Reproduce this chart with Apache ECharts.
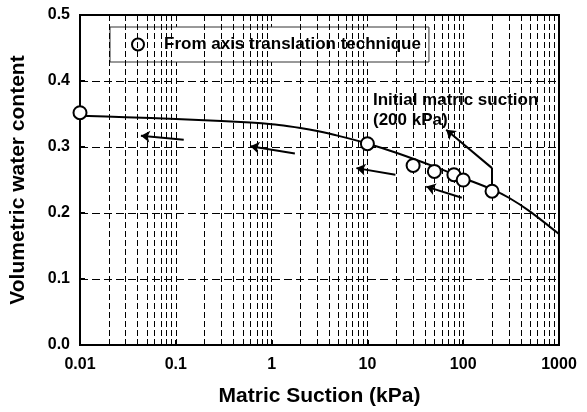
<!DOCTYPE html>
<html><head><meta charset="utf-8">
<script src="https://cdn.jsdelivr.net/npm/echarts@6/dist/echarts.min.js"></script>
<style>html,body{margin:0;padding:0;background:#fff}#c{width:587px;height:412px}</style>
</head><body><div id="c"></div>
<script>
// measured data
const suction = [0.01, 10, 30, 50, 80, 100, 200];
const theta = [0.352, 0.305, 0.272, 0.263, 0.258, 0.250, 0.233];
// fitted curve
const curveX = [0.01, 0.03, 0.1, 0.3, 0.6, 1, 1.5, 2, 3, 5, 10, 20, 50, 100, 200, 300, 500, 1000];
const curveY = [0.3473, 0.3451, 0.3424, 0.3395, 0.3371, 0.3346, 0.3316, 0.3289, 0.3241, 0.3169, 0.3054, 0.2912, 0.2702, 0.2530, 0.2358, 0.2231, 0.2021, 0.1681];
// arrows [tail, head]
const arrows = [
  [[0.121, 0.311], [0.0432, 0.317]],
  [[1.75, 0.290], [0.60, 0.301]],
  [[19.6, 0.258], [7.68, 0.268]],
  [[96.8, 0.223], [41.2, 0.240]],
  [[200, 0.268], [66.5, 0.326]]
];
const leaderLine = [[200, 0.243], [200, 0.268]];
const xTickLabels = {0.01: '0.01', 0.1: '0.1', 1: '1', 10: '10', 100: '100', 1000: '1000'};
const minorGrid = [0.02,0.03,0.04,0.05,0.06,0.07,0.08,0.09,
  0.2,0.3,0.4,0.5,0.6,0.7,0.8,0.9,
  2,3,4,5,6,7,8,9,
  20,30,40,50,60,70,80,90,
  200,300,400,500,600,700,800,900];
const legendName = 'From axis translation technique';
const annotation = 'Initial matric suction\n(200 kPa)';

const FONT = '"Liberation Sans", Arial, sans-serif';
const dash = [6, 3];
const chart = echarts.init(document.getElementById('c'));
const curve = curveX.map((x, i) => [x, curveY[i]]);
const pts = suction.map((x, i) => [x, theta[i]]);

chart.setOption({
  animation: false,
  backgroundColor: '#fff',
  grid: {left: 79, right: 28, top: 15, bottom: 63, show: true, borderColor: '#000', borderWidth: 2, backgroundColor: 'transparent'},
  legend: {
    data: [legendName], left: 110, top: 27,
    backgroundColor: '#fff', borderColor: '#333', borderWidth: 1,
    padding: [9, 8, 9, 21], itemWidth: 42, itemHeight: 12, icon: 'circle',
    itemStyle: {color: '#fff', borderColor: '#000', borderWidth: 2},
    textStyle: {fontFamily: FONT, fontWeight: 'bold', fontSize: 17, color: '#000'}
  },
  xAxis: {
    type: 'log', logBase: 10, min: 0.01, max: 1000,
    name: 'Matric Suction (kPa)', nameLocation: 'middle', nameGap: 41,
    nameTextStyle: {fontFamily: FONT, fontWeight: 'bold', fontSize: 21, color: '#000'},
    axisLine: {lineStyle: {color: '#000', width: 2}},
    axisTick: {inside: true, length: 5, lineStyle: {color: '#000', width: 2}},
    axisLabel: {fontFamily: FONT, fontWeight: 'bold', fontSize: 16, color: '#000', margin: 12,
      formatter: v => xTickLabels[+v.toPrecision(6)] || String(v)},
    splitLine: {show: true, lineStyle: {color: '#000', width: 1, type: dash}}
  },
  yAxis: {
    type: 'value', min: 0, max: 0.5, interval: 0.1,
    name: 'Volumetric water content', nameLocation: 'middle', nameGap: 51, nameRotate: 90,
    nameTextStyle: {fontFamily: FONT, fontWeight: 'bold', fontSize: 21, color: '#000'},
    axisLine: {lineStyle: {color: '#000', width: 2}},
    axisTick: {inside: true, length: 5, lineStyle: {color: '#000', width: 2}},
    axisLabel: {fontFamily: FONT, fontWeight: 'bold', fontSize: 16, color: '#000', margin: 10,
      formatter: v => v.toFixed(1)},
    splitLine: {show: true, lineStyle: {color: '#000', width: 1, type: [8, 4]}}
  },
  graphic: [{
    type: 'text', left: 373, top: 90, z: 10,
    style: {text: annotation, font: 'bold 17px ' + FONT, lineHeight: 20, fill: '#000'}
  }],
  series: [
    {
      type: 'line', name: 'curve', data: curve, smooth: 0.3, showSymbol: false,
      lineStyle: {color: '#000', width: 2}, z: 3, silent: true,
      markLine: {
        silent: true, symbol: 'none', label: {show: false},
        lineStyle: {color: '#000', width: 1, type: dash},
        data: minorGrid.map(v => ({xAxis: v}))
      }
    },
    {
      type: 'lines', coordinateSystem: 'cartesian2d', silent: true, z: 4,
      symbol: ['none', 'arrow'], symbolSize: 9,
      lineStyle: {color: '#000', width: 2, opacity: 1},
      data: arrows.map(a => ({coords: a}))
    },
    {
      type: 'lines', coordinateSystem: 'cartesian2d', silent: true, z: 4,
      symbol: ['none', 'none'],
      lineStyle: {color: '#000', width: 2, opacity: 1},
      data: [{coords: leaderLine}]
    },
    {
      type: 'scatter', name: legendName, data: pts, symbol: 'circle', symbolSize: 13, z: 5,
      itemStyle: {color: '#fff', borderColor: '#000', borderWidth: 2, opacity: 1}
    }
  ]
});
</script></body></html>
